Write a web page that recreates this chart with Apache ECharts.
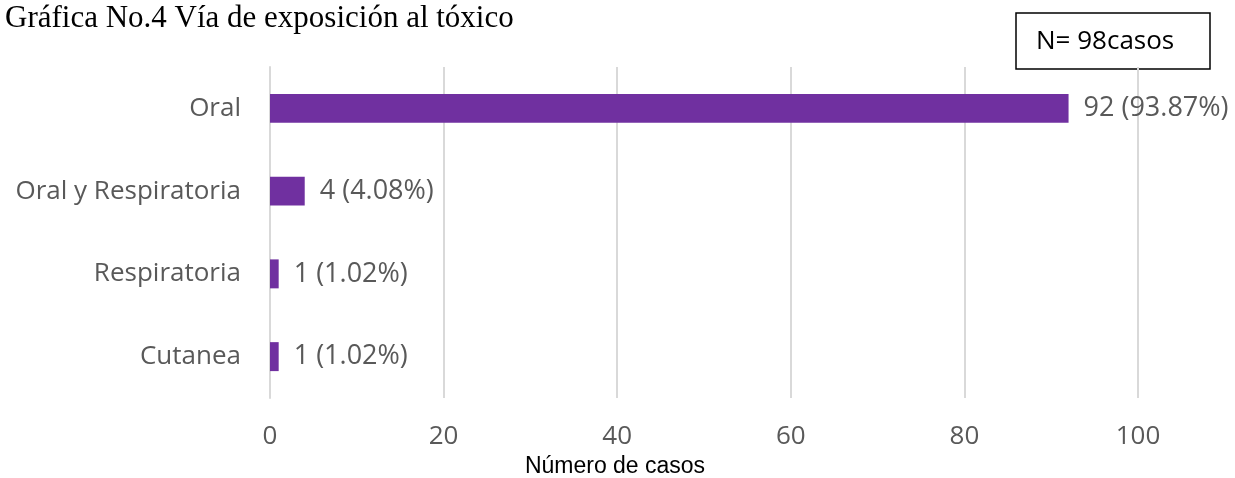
<!DOCTYPE html>
<html><head><meta charset="utf-8">
<script src="https://cdn.jsdelivr.net/npm/echarts@6/dist/echarts.min.js"></script>
<style>html,body{margin:0;padding:0;background:#fff}#c{width:1235px;height:478px}</style>
</head><body><div id="c"></div>
<script>
const categories = ["Oral", "Oral y Respiratoria", "Respiratoria", "Cutanea"];
const cases = [92, 4, 1, 1];
const percents = ["93.87%", "4.08%", "1.02%", "1.02%"];
const xTicks = [0, 20, 40, 60, 80, 100];
const titleText = "Gráfica No.4 Vía de exposición al tóxico";
const noteText = "N= 98casos";
const axisName = "Número de casos";

const chart = echarts.init(document.getElementById('c'));
const labelFont = "'Open Sans', 'Noto Sans', sans-serif";
chart.setOption({
  animation: false,
  title: {
    text: titleText, left: 0, top: -2,
    textStyle: {fontFamily: "'Liberation Serif', serif", fontWeight: 'normal', fontSize: 31, color: '#000'}
  },
  graphic: [
    {type: 'rect', shape: {x: 1016, y: 13, width: 194, height: 56}, style: {fill: '#fff', stroke: '#000', lineWidth: 1.5}},
    {type: 'text', style: {x: 1036, y: 42, text: noteText, textVerticalAlign: 'middle', font: "26px 'Open Sans', sans-serif", fill: '#000'}},
    {type: 'text', style: {x: 615, y: 467, text: axisName, textAlign: 'center', textVerticalAlign: 'middle', font: "23px 'Liberation Sans', Arial, sans-serif", fill: '#000'}}
  ],
  grid: {left: 270, right: 97, top: 67, bottom: 80},
  xAxis: {
    type: 'value', min: 0, max: 100, interval: 20,
    axisLine: {show: false}, axisTick: {show: false},
    axisLabel: {fontFamily: labelFont, fontSize: 26, color: '#595959', margin: 26,
      formatter: v => xTicks.includes(v) ? String(v) : ''},
    splitLine: {show: true, lineStyle: {color: '#d9d9d9', width: 2}}
  },
  yAxis: {
    type: 'category', data: categories, inverse: true,
    axisLine: {show: true, lineStyle: {color: '#d9d9d9', width: 2}}, axisTick: {show: false},
    axisLabel: {fontFamily: labelFont, fontSize: 26, color: '#595959', margin: 29}
  },
  series: [{
    type: 'bar', data: cases, barWidth: '35%',
    itemStyle: {color: '#7030a0'},
    label: {show: true, position: 'right', distance: 15, fontFamily: labelFont, fontSize: 27, color: '#595959',
      formatter: p => p.value + ' (' + percents[p.dataIndex] + ')'}
  }]
});
</script></body></html>
